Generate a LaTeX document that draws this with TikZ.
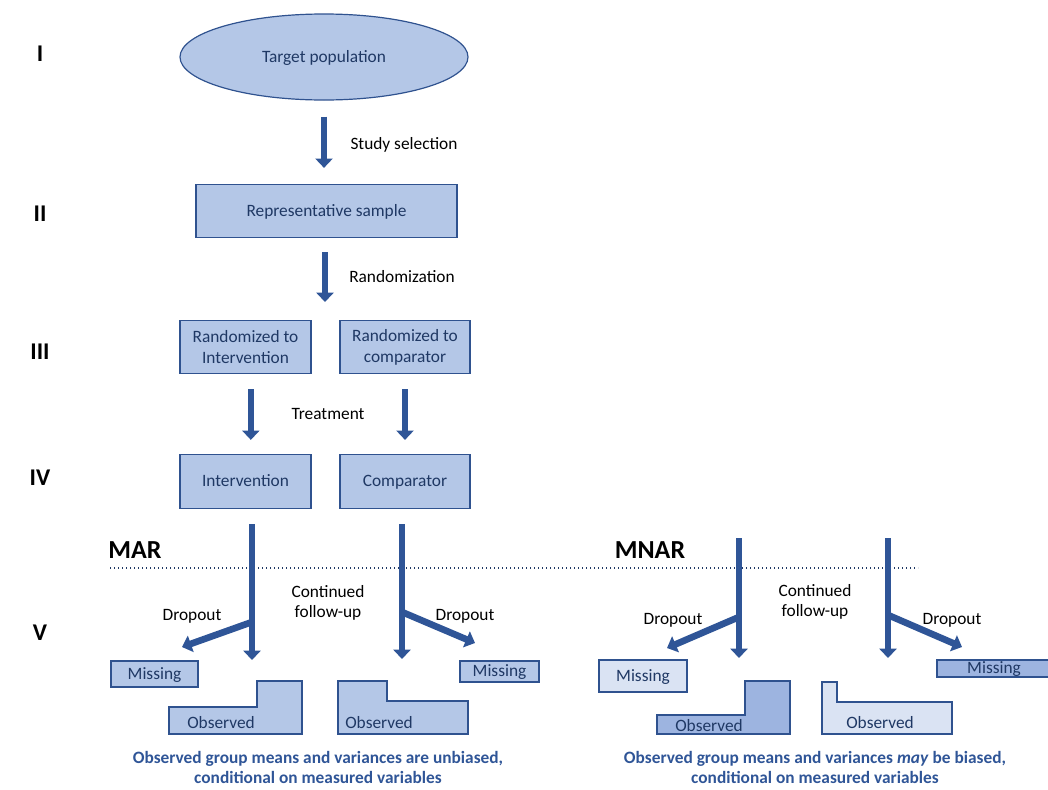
\documentclass[tikz,border=0pt]{standalone}
\usepackage{fontspec}
\setmainfont{Carlito}
\usetikzlibrary{arrows.meta, positioning, shapes.geometric}
\definecolor{boxfill}{HTML}{B4C7E7}
\definecolor{lightfill}{HTML}{DAE3F3}
\definecolor{darkfill}{HTML}{9DB4E0}
\definecolor{boxline}{HTML}{2F528F}
\definecolor{boxtext}{HTML}{1F3864}
\definecolor{arrowblue}{HTML}{2F5597}

\begin{document}
\begin{tikzpicture}[x=0.75pt, y=-0.75pt,
    box/.style={rectangle, draw=boxline, line width=0.9pt, fill=boxfill, text=boxtext, font=\fontsize{13}{15.75}\selectfont, align=center, inner sep=0pt},
    oneline/.style={text height=0.8em, text depth=0em},
    obsshape/.style={draw=boxline, line width=0.9pt, fill=boxfill},
    bigarrow/.style={draw=arrowblue, line width=5pt, -{Triangle[width=12.75pt, length=7pt]}},
    lbl/.style={font=\fontsize{13}{14.5}\selectfont, align=center},
    level/.style={font=\fontsize{18}{20}\selectfont\bfseries},
    note/.style={font=\fontsize{13}{15}\selectfont\bfseries, text=arrowblue, align=center}
  ]
  \useasboundingbox (0,0) rectangle (1048,789);

  % Levels
  \node[level] (lvI) at (40,54) {I};
  \node[level] (lvII) at (40,214) {II};
  \node[level] (lvIII) at (40,352) {III};
  \node[level] (lvIV) at (40,478) {IV};
  \node[level] (lvV) at (40,633) {V};

  % Population and sample
  \node[box, oneline, ellipse, minimum width=216pt, minimum height=64.5pt] (pop) at (324,57) {Target population};
  \node[box, oneline, minimum width=195.75pt, minimum height=39.75pt] (sample) at (326.5,211) {Representative sample};
  \draw[bigarrow, shorten <=12pt, shorten >=12pt] (pop.south) -- (pop.south |- sample.north);
  \node[lbl, oneline] (select) at (404,144) {Study selection};

  % Randomization
  \coordinate (split) at (325,302);
  \draw[bigarrow, shorten <=10.5pt] (sample.south -| split) -- (split);
  \node[lbl, oneline] (rand) at (402,277) {Randomization};

  \node[box, minimum width=98.25pt, minimum height=39.75pt] (rint) at (245.5,347) {Randomized to\\Intervention};
  \node[box, minimum width=97.5pt, minimum height=39.75pt] (rcomp) at (405,347) {Randomized to\\comparator};

  % Treatment
  \node[box, oneline, minimum width=98.25pt, minimum height=40.5pt] (int) at (245.5,481.5) {Intervention};
  \node[box, oneline, minimum width=97.5pt, minimum height=40.5pt] (comp) at (405,481.5) {Comparator};
  \draw[bigarrow, shorten <=11.25pt, shorten >=10.5pt] ([xshift=4pt]rint.south) -- ([xshift=4pt]int.north);
  \draw[bigarrow, shorten <=11.25pt, shorten >=10.5pt] (rcomp.south) -- (comp.north);
  \node[lbl, oneline] (treat) at (328,414) {Treatment};

  % MAR / MNAR
  \node[font=\fontsize{19.5}{22}\selectfont\bfseries] (mar) at (135,550) {MAR};
  \node[font=\fontsize{19.5}{22}\selectfont\bfseries] (mnar) at (650,550) {MNAR};
  \draw[boxtext, line width=1pt, dotted] (110,568) -- (918,568);

  % MAR branches
  \coordinate (endA) at (252,660);
  \coordinate (forkA) at (252,622);
  \coordinate (dropA) at (182,647);
  \coordinate (endB) at (402,659);
  \coordinate (forkB) at (402,612);
  \coordinate (dropB) at (475,643);
  \draw[bigarrow, shorten <=11.25pt] (int.south -| endA) -- (endA);
  \draw[bigarrow, shorten <=11.25pt] (comp.south -| endB) -- (endB);
  \draw[bigarrow] (forkA) -- (dropA);
  \draw[bigarrow] (forkB) -- (dropB);
  \node[lbl, oneline] (dropAl) at (192,615) {Dropout};
  \node[lbl, oneline] (dropBl) at (465,615) {Dropout};
  \node[lbl] (contA) at (328,603) {Continued\\follow-up};

  \node[box, oneline, minimum width=65.25pt, minimum height=19.5pt] (missA) at (154.5,674) {Missing};
  \node[box, oneline, minimum width=59.25pt, minimum height=15.75pt] (missB) at (499.5,671.5) {Missing};
  \draw[obsshape] (169,707) -- (257,707) -- (257,681) -- (302,681) -- (302,734) -- (169,734) -- cycle;
  \node[lbl, oneline, text=boxtext] (obsA) at (221,723) {Observed};
  \draw[obsshape] (338,681) -- (387,681) -- (387,701) -- (468,701) -- (468,734) -- (338,734) -- cycle;
  \node[lbl, oneline, text=boxtext] (obsB) at (379,723) {Observed};

  % MNAR branches
  \coordinate (topC) at (739,538);
  \coordinate (endC) at (739,658);
  \coordinate (forkC) at (739,617);
  \coordinate (dropC) at (667,648);
  \coordinate (topD) at (888,538);
  \coordinate (endD) at (888,658);
  \coordinate (forkD) at (888,615);
  \coordinate (dropD) at (962,647);
  \draw[bigarrow] (topC) -- (endC);
  \draw[bigarrow] (topD) -- (endD);
  \draw[bigarrow] (forkC) -- (dropC);
  \draw[bigarrow] (forkD) -- (dropD);
  \node[lbl, oneline] (dropCl) at (673,619) {Dropout};
  \node[lbl, oneline] (dropDl) at (952,619) {Dropout};
  \node[lbl] (contC) at (815,602) {Continued\\follow-up};

  \node[box, oneline, fill=lightfill, minimum width=66pt, minimum height=24pt] (missC) at (643,676) {Missing};
  \node[box, oneline, fill=darkfill, minimum width=85.5pt, minimum height=12.75pt] (missD) at (994,668.5) {Missing};
  \draw[obsshape, fill=darkfill] (657,715) -- (745,715) -- (745,681) -- (790,681) -- (790,734) -- (657,734) -- cycle;
  \node[lbl, oneline, text=boxtext] (obsC) at (709,726) {Observed};
  \draw[obsshape, fill=lightfill] (822,682) -- (837,682) -- (837,702) -- (952,702) -- (952,734) -- (822,734) -- cycle;
  \node[lbl, oneline, text=boxtext] (obsD) at (880,723) {Observed};

  % Conclusions
  \node[note] (noteA) at (318,767) {Observed group means and variances are unbiased,\\conditional on measured variables};
  \node[note] (noteB) at (815,767) {Observed group means and variances \textit{may} be biased,\\conditional on measured variables};
\end{tikzpicture}
\end{document}
